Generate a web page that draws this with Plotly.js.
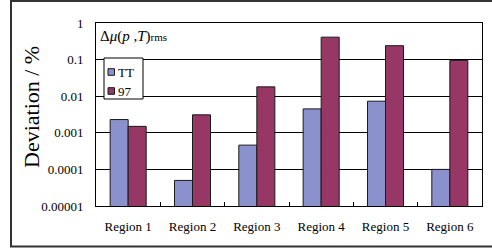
<!DOCTYPE html>
<html><head><meta charset="utf-8">
<script src="https://cdn.plot.ly/plotly-3.0.1.min.js"></script>
<style>html,body{margin:0;padding:0;background:#fff}#c{width:492px;height:248px}</style>
</head><body><div id="c"></div>
<script>
const categories = ["Region 1","Region 2","Region 3","Region 4","Region 5","Region 6"];
const seriesNames = ["TT","97"];
const ttValues = [0.0023, 0.00005, 0.00046, 0.0045, 0.0073, 0.0001];
const v97Values = [0.0015, 0.0031, 0.018, 0.41, 0.24, 0.095];
const yTickVals = [0.00001, 0.0001, 0.001, 0.01, 0.1, 1];
const yTickText = ["0.00001","0.0001","0.001","0.01","0.1","1"];
const yTitle = "Deviation / %";
const colors = ["#8b91cc", "#963766"];

const serif = "'Times New Roman', 'Liberation Serif', serif";
const L = 96, T = 23, W = 386, H = 183;
const px = x => (x - L) / W;
const py = y => (T + H - y) / H;

const traces = [
  {type:"bar", name:seriesNames[0], x:categories, y:ttValues,
   marker:{color:colors[0], line:{color:"#1a1a1a", width:1}}},
  {type:"bar", name:seriesNames[1], x:categories, y:v97Values,
   marker:{color:colors[1], line:{color:"#1a1a1a", width:1}}}
];

const shapes = [
  {type:"rect", xref:"paper", yref:"paper", x0:px(11), x1:px(500), y0:py(246.5), y1:py(1),
    line:{color:"#333", width:2}, fillcolor:"rgba(0,0,0,0)", layer:"above"},
  {type:"rect", xref:"paper", yref:"paper", x0:px(104), x1:px(143), y0:py(99), y1:py(58),
    line:{color:"#000", width:1}, fillcolor:"#fff", layer:"above"}
];
const annotations = [
  {xref:"paper", yref:"paper", x:px(98), y:py(37), xanchor:"left", yanchor:"middle",
    showarrow:false, font:{family:serif, size:15},
    text:"Δ<i>μ</i>(<i>p</i> ,<i>T</i>)<span style='font-size:11px'>rms</span>"},
  {xref:"paper", yref:"paper", x:px(32), y:py(107), xanchor:"center", yanchor:"middle",
    showarrow:false, textangle:-90, font:{family:serif, size:22}, text:yTitle}
];
const legendY = [72, 91];
seriesNames.forEach((n, i) => {
  shapes.push({type:"rect", xref:"paper", yref:"paper", x0:px(108), x1:px(114.5),
    y0:py(legendY[i] + 3.3), y1:py(legendY[i] - 3.3),
    line:{color:"#1a1a1a", width:1}, fillcolor:colors[i], layer:"above"});
  annotations.push({xref:"paper", yref:"paper", x:px(116), y:py(legendY[i]),
    xanchor:"left", yanchor:"middle", showarrow:false,
    font:{family:serif, size:13}, text:n});
});

const layout = {
  width:492, height:248,
  margin:{l:L, r:492 - L - W, t:T, b:248 - T - H},
  paper_bgcolor:"#fff", plot_bgcolor:"#fff",
  font:{family:serif, color:"#000", size:11},
  barmode:"group", bargap:0.44, bargroupgap:0,
  showlegend:false,
  xaxis:{type:"category", showline:true, linecolor:"#000", linewidth:1, mirror:true,
    ticks:"inside", tickson:"boundaries", ticklen:4, tickcolor:"#000",
    showgrid:false, tickfont:{family:serif, size:13}, ticklabelstandoff:8},
  yaxis:{type:"log", range:[-5,0], tickvals:yTickVals, ticktext:yTickText,
    showline:true, linecolor:"#000", linewidth:1, mirror:true,
    showgrid:true, gridcolor:"#000", gridwidth:1, ticks:"",
    tickfont:{family:serif, size:13}, ticklabelstandoff:9},
  annotations:annotations,
  shapes:shapes
};
Plotly.newPlot("c", traces, layout, {displayModeBar:false, staticPlot:true});
</script></body></html>
